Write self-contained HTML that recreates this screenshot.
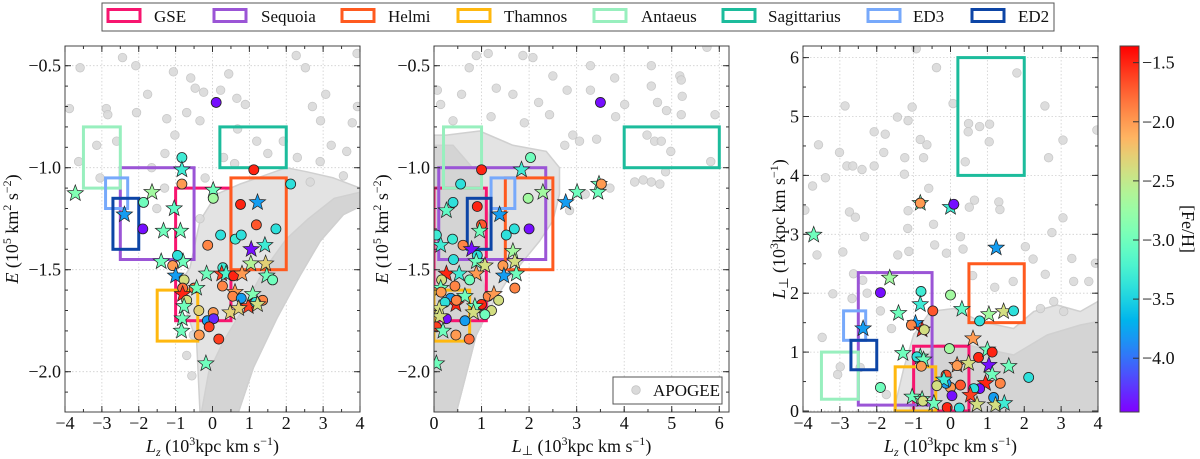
<!DOCTYPE html>
<html><head><meta charset="utf-8">
<style>
html,body{margin:0;padding:0;background:#fff;}
svg{display:block;}
svg text{font-family:"Liberation Serif","Times New Roman",serif;}
</style></head>
<body>
<svg id="fig" width="1200" height="459" viewBox="0 0 1200 459" xmlns="http://www.w3.org/2000/svg" font-family="Liberation Serif, serif">
<defs>
<clipPath id="c1"><rect x="65" y="46" width="295" height="366"/></clipPath>
<clipPath id="c2"><rect x="434" y="46" width="295" height="366"/></clipPath>
<clipPath id="c3"><rect x="803" y="46" width="295" height="366"/></clipPath>
<linearGradient id="cbgrad" x1="0" y1="1" x2="0" y2="0"></linearGradient>
</defs>
<g id="legend">
<rect x="102" y="3" width="952" height="28" fill="#fff" stroke="#555" stroke-width="1"/>
</g>
</svg>
<script>
// ---- data ----
const groupNames = ["GSE","Sequoia","Helmi","Thamnos","Antaeus","Sagittarius","ED3","ED2"];
const groupColors = ["#f7156f","#9b55d6","#ff5a1f","#ffb80f","#98efbe","#1cbc9c","#77a9fb","#0d45a6"];
const boxesLzE = [[-1,0.5,-1.75,-1.1],[-2.5,-0.5,-1.45,-1.0],[0.5,2,-1.5,-1.05],[-1.5,-0.4,-1.85,-1.6],[-3.5,-2.5,-1.1,-0.8],[0.2,2,-1.0,-0.8],[-2.9,-2.3,-1.2,-1.05],[-2.7,-2.0,-1.4,-1.15]];
const boxesLpE = [[0,1.1,-1.75,-1.1],[0.1,2.35,-1.45,-1.0],[1.5,2.5,-1.5,-1.05],[0,0.75,-1.85,-1.6],[0.2,1.0,-1.1,-0.8],[4,6,-1.0,-0.8],[1.2,1.7,-1.2,-1.05],[0.7,1.2,-1.4,-1.15]];
const boxesLzLp = [[-1,0.5,0,1.1],[-2.5,-0.5,0.1,2.35],[0.5,2,1.5,2.5],[-1.5,-0.4,0,0.75],[-3.5,-2.5,0.2,1.0],[0.2,2,4,6],[-2.9,-2.3,1.2,1.7],[-2.7,-2.0,0.7,1.2]];

const denseLzE_outer = [[-0.34,-2.2],[-0.43,-1.85],[-0.7,-1.71],[-0.97,-1.59],[-0.61,-1.49],[-0.34,-1.26],[0.11,-1.13],[0.75,-1.08],[2.0,-1.0],[2.56,-1.02],[3.28,-1.05],[4,-1.1],[4,-1.19],[3.55,-1.23],[2.92,-1.36],[2.37,-1.53],[1.74,-1.74],[1.11,-1.98],[0.7,-2.2]];
const denseLzE_core = [[-0.3,-2.2],[-0.1,-2.0],[0.3,-1.85],[0.8,-1.7],[1.4,-1.5],[2.0,-1.35],[2.6,-1.25],[3.3,-1.15],[4,-1.12],[4,-1.19],[3.55,-1.23],[2.92,-1.36],[2.37,-1.53],[1.74,-1.74],[1.11,-1.98],[0.7,-2.2]];
const denseLpE_outer = [[0,-2.2],[0.47,-2.2],[0.89,-1.82],[1.17,-1.69],[1.52,-1.56],[1.87,-1.46],[2.22,-1.36],[2.5,-1.26],[2.64,-1.13],[2.64,-1.0],[2.36,-0.92],[1.66,-0.89],[0.96,-0.82],[0.26,-0.84],[0,-0.84]];
const denseLpE_core = [[0,-2.2],[0.47,-2.2],[0.89,-1.82],[1.17,-1.69],[0.96,-1.49],[1.17,-1.25],[0.96,-1.04],[0.4,-0.89],[0,-0.89]];
const denseLzLp_outer = [[-1.54,0],[-1.27,0.72],[-1.0,1.29],[-0.55,1.69],[0.09,1.74],[0.81,1.52],[1.71,1.4],[2.26,1.69],[2.89,1.8],[3.52,1.69],[4,1.86],[4,0]];
const denseLzLp_core = [[-1.09,0],[-1.0,0.72],[-0.37,1.12],[0.45,1.12],[1.71,0.95],[2.62,1.29],[3.52,1.46],[4,1.52],[4,0]];

const sparseLzE = [[-3.88,-0.71],[-3.59,-0.51],[-2.44,-0.46],[-2.08,-0.5],[-2.88,-0.71],[-2.84,-0.74],[-2.06,-0.73],[-1.76,-0.64],[-1.06,-0.53],[-0.59,-0.56],[-0.47,-0.61],[-0.24,-0.63],[0.22,-0.62],[0.44,-0.54],[0.66,-0.66],[0.89,-0.69],[2.27,-0.45],[2.52,-0.51],[3.92,-0.44],[2.71,-0.7],[2.93,-0.77],[3.79,-0.78],[3.93,-0.7],[3.07,-0.64],[-3.14,-0.89],[-2.6,-0.87],[-3.63,-0.97],[2.92,-0.97],[3.64,-0.92],[3.22,-0.89],[0.68,-0.81],[1.2,-0.87],[1.92,-0.87],[-1.29,-0.93],[-1.65,-1.0],[-1.02,-0.84],[-0.34,-0.77],[-0.7,-0.73],[-1.24,-0.76],[3.55,-1.04],[2.65,-1.07],[-3.05,-1.05],[-1.51,-1.2],[-0.34,-1.25],[-0.52,-1.82],[-0.56,-2.02],[-0.7,-1.92],[0.3,-0.95],[1.5,-0.93],[-0.2,-1.05],[-1.3,-1.1],[0.6,-0.98],[2.3,-0.95]];
const sparseLpE = [[0.07,-0.62],[0.14,-0.69],[0.89,-0.45],[1.14,-0.44],[1.87,-0.45],[2.08,-0.46],[2.8,-0.62],[3.29,-0.62],[3.29,-0.5],[3.8,-0.56],[4.01,-0.69],[4.57,-0.5],[4.57,-0.6],[4.7,-0.68],[4.89,-0.72],[5.17,-0.55],[5.2,-0.57],[5.22,-0.65],[5.2,-0.74],[5.74,-0.41],[5.91,-0.74],[3.82,-0.75],[4.48,-0.84],[4.64,-0.87],[4.78,-0.87],[4.98,-0.92],[5.82,-0.97],[4.22,-1.07],[4.57,-1.07],[4.75,-1.08],[4.4,-1.06],[4.87,-1.02],[3.7,-1.1],[3.18,-1.13],[2.92,-0.84],[2.75,-0.89],[3.42,-0.86],[3.06,-0.87],[2.85,-1.21],[2.5,-0.55],[0.58,-0.64],[1.66,-0.64],[1.31,-0.61],[2.43,-0.74],[0.74,-0.51],[1.2,-0.75],[1.9,-0.78],[2.2,-0.68],[0.4,-0.77]];
const sparseLzLp = [[-0.93,6.15],[-0.38,5.83],[1.8,5.74],[-2.86,5.18],[-1.04,5.16],[0.07,5.22],[2.56,5.18],[-1.44,4.99],[-1.15,4.93],[0.49,4.88],[0.79,4.83],[1.06,4.87],[0.48,4.74],[1.05,4.57],[3.05,4.6],[3.97,4.77],[-2.07,4.74],[-1.77,4.7],[-0.82,4.61],[-0.64,4.52],[-3.58,4.52],[-3.01,4.39],[-2.81,4.16],[-2.65,4.16],[-2.4,4.1],[-2.07,4.16],[-1.24,4.3],[-0.73,4.3],[-1.81,4.39],[-3.39,3.96],[-3.74,3.82],[-1.25,4.02],[0.4,4.23],[2.66,4.3],[-0.59,3.78],[-3.95,3.41],[-2.74,3.38],[-2.58,3.29],[-1.15,3.4],[-0.46,3.17],[0.51,3.46],[0.65,3.58],[1.31,3.55],[1.34,3.42],[3.05,3.28],[2.75,3.03],[-2.33,2.96],[-2.92,2.7],[-3.62,2.65],[-1.16,3.1],[-0.43,2.82],[0.27,2.96],[-0.11,2.68],[0.34,2.75],[-1.13,2.71],[-1.43,2.65],[2.03,2.79],[3.29,2.59],[2.24,2.58],[2.57,2.32],[3.34,2.2],[3.75,2.2],[3.93,2.51],[-3.19,1.99],[-2.63,2.33],[-2.38,2.22],[-2.67,1.91],[-2.26,2.0],[-3.48,1.25],[-1.74,0.28],[-2.45,0.74],[-3.06,0.62],[-2.99,0.75],[2.8,1.86],[2.44,1.74],[3.07,1.69],[-1.6,1.4],[-1.9,1.7],[1.2,2.1],[0.6,2.3],[1.7,2.2]];

const starsLzE = [[0.10,-0.68,-4.4,0],[-3.72,-1.126,-2.9,1],[-2.39,-1.23,-3.8,1],[-1.89,-1.30,-4.4,0],[-1.87,-1.17,-3.0,0],[-1.64,-1.12,-2.7,1],[-1.33,-1.31,-3.0,1],[-1.39,-1.46,-3.0,1],[-0.83,-0.95,-3.3,0],[-0.83,-1.01,-3.3,1],[-0.83,-1.08,-2.0,0],[-1.04,-1.20,-3.1,1],[-0.87,-1.31,-3.0,1],[-0.80,-1.46,-3.0,1],[-0.95,-1.43,-3.4,0],[-1.08,-1.48,-2.0,0],[-1.0,-1.53,-3.8,1],[-0.77,-1.55,-2.4,0],[-0.81,-1.59,-1.8,0],[-0.81,-1.62,-1.5,1],[-0.5,-1.59,-1.8,0],[-0.43,-1.59,-3.0,1],[-0.70,-1.65,-2.4,0],[-0.77,-1.68,-3.0,1],[-0.37,-1.70,-2.3,0],[-0.82,-1.74,-3.0,1],[-0.84,-1.80,-3.0,1],[-0.36,-1.82,-2.0,0],[0.02,-1.71,-2.0,0],[-0.14,-1.75,-3.8,0],[0.03,-1.74,-4.3,0],[-0.09,-1.78,-1.6,0],[0.17,-1.84,-1.6,0],[-0.18,-1.96,-3.0,1],[-0.13,-1.38,-1.9,0],[0.02,-1.11,-3.0,1],[0.02,-1.15,-2.7,0],[0.22,-1.33,-3.4,0],[0.28,-1.49,-3.3,0],[-0.16,-1.52,-3.0,1],[0.25,-1.52,-1.6,1],[0.37,-1.52,-3.2,1],[0.27,-1.58,-1.9,0],[0.57,-1.53,-1.5,0],[0.80,-1.52,-2.0,1],[0.61,-1.61,-2.0,1],[0.55,-1.63,-1.9,0],[0.78,-1.64,-3.8,0],[1.08,-1.67,-1.5,0],[0.97,-1.68,-1.6,1],[0.48,-1.71,-2.3,1],[0.71,-1.69,-2.3,1],[1.09,-1.62,-2.9,1],[1.36,-1.65,-1.9,0],[1.17,-1.66,-3.4,0],[1.22,-1.67,-2.4,1],[0.62,-1.35,-3.3,0],[0.78,-1.33,-3.4,0],[0.76,-1.18,-1.5,0],[1.12,-1.01,-1.5,0],[1.22,-1.17,-3.8,1],[1.19,-1.28,-1.7,0],[1.72,-1.30,-3.4,0],[1.05,-1.40,-4.4,1],[1.42,-1.38,-3.3,1],[1.04,-1.47,-2.6,1],[1.44,-1.47,-2.3,1],[1.47,-1.53,-3.0,1],[1.63,-1.55,-3.0,0],[2.12,-1.08,-3.4,0]];
const starsLpE = [[3.50,-0.68,-4.4,0],[3.47,-1.08,-3.0,1],[3.45,-1.12,-3.0,1],[3.52,-1.08,-2.0,0],[3.01,-1.12,-3.0,1],[2.77,-1.17,-3.8,1],[2.29,-1.12,-2.7,1],[2.03,-0.95,-3.0,0],[1.84,-1.01,-3.3,1],[1.98,-1.15,-2.7,0],[2.0,-1.30,-4.4,0],[1.69,-1.30,-3.4,0],[1.52,-1.33,-3.4,0],[1.38,-1.23,-3.8,1],[1.66,-1.41,-2.7,1],[1.70,-1.46,-2.4,1],[1.45,-1.48,-2.0,0],[1.47,-1.53,-3.8,1],[1.73,-1.52,-3.0,1],[1.70,-1.59,-1.9,0],[1.0,-1.01,-1.5,0],[0.56,-1.08,-3.4,0],[0.91,-1.19,-1.5,0],[0.26,-1.21,-3.1,1],[0.40,-1.17,-3.4,0],[1.0,-1.28,-1.7,0],[0.96,-1.31,-3.0,1],[0.39,-1.35,-3.3,0],[0.14,-1.38,-3.3,1],[0.05,-1.33,-3.3,0],[0.61,-1.38,-1.9,0],[0.79,-1.40,-4.4,1],[0.91,-1.43,-3.4,0],[0.89,-1.46,-3.0,1],[1.07,-1.48,-2.4,1],[0.89,-1.52,-2.0,1],[0.26,-1.52,-1.5,1],[0.53,-1.52,-3.3,1],[0.41,-1.45,-3.4,0],[0.16,-1.55,-2.4,0],[0.75,-1.55,-3.0,0],[0.14,-1.59,-3.0,1],[0.44,-1.58,-1.9,0],[0.65,-1.63,-3.0,1],[0.35,-1.64,-3.8,0],[0.46,-1.67,-1.5,1],[0.47,-1.65,-1.9,0],[1.0,-1.67,-1.5,0],[0.86,-1.68,-3.0,1],[1.14,-1.63,-1.9,0],[1.26,-1.62,-2.0,1],[1.36,-1.65,-2.4,0],[1.21,-1.70,-2.4,0],[0.83,-1.71,-2.4,1],[0.23,-1.66,-3.4,0],[1.07,-1.72,-3.0,0],[0.26,-1.74,-4.4,0],[0.65,-1.75,-3.8,0],[0.11,-1.69,-2.4,1],[0.12,-1.73,-2.4,1],[0.05,-1.78,-1.6,0],[0.19,-1.80,-3.0,1],[0.46,-1.82,-2.0,0],[0.74,-1.84,-1.8,0],[0.05,-1.96,-3.0,1],[0.15,-1.61,-2.0,0]];
const starsLzLp = [[-3.71,2.99,-3.0,1],[-2.37,1.40,-3.8,1],[-1.65,2.26,-2.7,1],[-1.90,2.01,-4.4,0],[-1.90,0.40,-3.0,0],[-1.41,1.66,-3.0,1],[-1.29,0.98,-3.0,1],[-0.80,2.03,-3.3,0],[-0.82,1.81,-3.3,1],[-0.82,3.53,-3.0,1],[-0.82,3.53,-2.0,0],[0.0,3.46,-3.3,1],[0.09,3.51,-4.4,0],[-0.48,1.70,-1.7,0],[-0.95,1.49,-3.8,1],[-1.06,1.46,-1.9,0],[-0.77,1.38,-1.5,1],[-0.71,1.38,-2.4,0],[0.0,1.97,-2.7,0],[0.31,1.73,-3.1,1],[1.24,2.77,-3.8,1],[1.04,1.64,-2.7,1],[1.44,1.69,-2.4,1],[1.71,1.70,-3.4,0],[0.79,1.53,-3.4,0],[0.61,1.23,-2.0,1],[-0.03,1.06,-2.7,0],[-0.82,0.92,-3.0,1],[-0.91,0.92,-3.4,0],[-0.73,0.87,-3.0,1],[-0.79,0.76,-2.0,0],[0.18,0.78,-1.9,1],[0.18,0.77,-2.0,0],[0.49,0.81,-2.4,1],[0.76,0.91,-1.5,0],[1.0,1.04,-3.0,1],[1.13,1.0,-1.5,0],[1.04,0.78,-4.4,1],[1.13,0.62,-3.0,1],[1.35,0.47,-1.9,0],[1.58,0.76,-3.0,1],[2.12,0.57,-3.4,0],[0.95,0.47,-1.5,1],[0.79,0.38,-4.4,0],[0.63,0.38,-3.4,0],[1.17,0.23,-3.8,0],[0.54,0.27,-1.6,1],[0.72,0.11,-2.4,1],[1.22,0.10,-2.4,1],[1.46,0.13,-3.3,1],[0.27,0.44,-1.7,0],[0.0,0.40,-2.0,0],[0.04,0.26,-4.4,0],[-0.12,0.61,-1.7,0],[-0.12,0.47,-3.8,0],[-0.18,0.53,-3.3,1],[-0.09,0.06,-1.5,0],[0.24,0.05,-3.4,0],[-0.37,0.43,-2.4,0],[-1.04,0.24,-3.0,1],[-0.77,0.20,-3.0,1],[-0.75,0.17,-2.4,0],[-0.45,0.13,-3.0,1]];

const cbTicks = [-1.5,-2.0,-2.5,-3.0,-3.5,-4.0];
const FEH_MIN = -4.455, FEH_MAX = -1.359;

// ---- helpers ----
const NS = "http://www.w3.org/2000/svg";
const FONT = "Liberation Serif, Times New Roman, serif";
const svg = document.getElementById("fig");
function mk(tag, attrs, parent){
  const e = document.createElementNS(NS, tag);
  for (const k in attrs) e.setAttribute(k, attrs[k]);
  if (tag === "text") e.setAttribute("font-family", FONT);
  (parent||svg).appendChild(e);
  return e;
}
function rainbow(v){
  let t = (v-FEH_MIN)/(FEH_MAX-FEH_MIN); t=Math.max(0,Math.min(1,t));
  const c = x => Math.round(255*Math.max(0,Math.min(1,x)));
  return `rgb(${c(Math.abs(2*t-0.5))},${c(Math.sin(Math.PI*t))},${c(Math.cos(Math.PI*t/2))})`;
}
function starPath(cx, cy, R){
  const r = R*0.42; let d="";
  for (let i=0;i<10;i++){
    const a = -Math.PI/2 + i*Math.PI/5;
    const rr = i%2===0 ? R : r;
    d += (i===0?"M":"L") + (cx+rr*Math.cos(a)).toFixed(1)+","+(cy+rr*Math.sin(a)).toFixed(1);
  }
  return d+"Z";
}

function panel(cfg){
  const {id,x0,x1,y0,y1,xmin,xmax,ymin,ymax} = cfg;
  const sx = v => x0 + (v-xmin)/(xmax-xmin)*(x1-x0);
  const sy = v => y1 - (v-ymin)/(ymax-ymin)*(y1-y0);
  const g = mk("g",{});
  
  
  const clip = mk("g",{"clip-path":`url(#${cfg.clip})`}, g);
  cfg.xticks.forEach(t=>{ const l=mk("line",{x1:sx(t),x2:sx(t),y1:y0,y2:y1,stroke:"#cfcfcf","stroke-width":0.8,"stroke-dasharray":"1.5,2"},clip);
      });
  cfg.yticks.forEach(t=>{ const l=mk("line",{x1:x0,x2:x1,y1:sy(t),y2:sy(t),stroke:"#cfcfcf","stroke-width":0.8,"stroke-dasharray":"1.5,2"},clip);
      });
  const poly = (pts, fill, nm) => { const p = mk("polygon",{points:pts.map(q=>sx(q[0]).toFixed(1)+","+sy(q[1]).toFixed(1)).join(" "),fill:fill,stroke:"#d0d0d0","stroke-width":1.5,"stroke-linejoin":"round"},clip);
      };
  poly(cfg.outer, "#e3e3e3", "apogee-density-outer");
  poly(cfg.core, "#d4d4d4", "apogee-density-core");
  cfg.sparse.forEach(q=>{ const c=mk("circle",{cx:sx(q[0]),cy:sy(q[1]),r:4.3,fill:"#dadada",stroke:"#c4c4c4","stroke-width":0.8,opacity:0.9},clip);
      });
  cfg.boxes.forEach((b,i)=>{ const r=mk("rect",{x:sx(b[0]),y:sy(b[3]),width:sx(b[1])-sx(b[0]),height:sy(b[2])-sy(b[3]),fill:"none",stroke:groupColors[i],"stroke-width":3},clip);
      });
  cfg.pts.forEach(q=>{
    let e;
    if (q[3]===1) e = mk("path",{d:starPath(sx(q[0]),sy(q[1]),8.5),fill:rainbow(q[2]),stroke:"#222","stroke-width":0.7},clip);
    else e = mk("circle",{cx:sx(q[0]),cy:sy(q[1]),r:5,fill:rainbow(q[2]),stroke:"#222","stroke-width":0.8},clip);
    
    
  });
  const fr = mk("rect",{x:x0,y:y0,width:x1-x0,height:y1-y0,fill:"none",stroke:"#444","stroke-width":1},g);
   
  const tk = (xa,ya,xb,yb)=>mk("line",{x1:xa,y1:ya,x2:xb,y2:yb,stroke:"#333","stroke-width":1},g);
  cfg.xminor.forEach(t=>{ tk(sx(t),y1,sx(t),y1-3); tk(sx(t),y0,sx(t),y0+3); });
  cfg.yminor.forEach(t=>{ tk(x0,sy(t),x0+3,sy(t)); tk(x1,sy(t),x1-3,sy(t)); });
  cfg.xticks.forEach(t=>{ tk(sx(t),y1,sx(t),y1-6); tk(sx(t),y0,sx(t),y0+6);
    const tx=mk("text",{x:sx(t),y:429,"text-anchor":"middle","font-size":18,fill:"#111"},g);
    tx.textContent = (t<0?"\u2212":"")+Math.abs(t);
      });
  cfg.yticks.forEach(t=>{ tk(x0,sy(t),x0+6,sy(t)); tk(x1,sy(t),x1-6,sy(t));
    const tx=mk("text",{x:x0-4,y:sy(t)+6,"text-anchor":"end","font-size":18,fill:"#111"},g);
    tx.textContent = (t<0?"\u2212":"")+Math.abs(t).toFixed(cfg.ydec);
      });
  const xl = mk("text",{x:(x0+x1)/2,y:452,"text-anchor":"middle","font-size":18,fill:"#111"},g);
  xl.innerHTML = cfg.xlabel;
   
  const yl = mk("text",{x:0,y:0,"text-anchor":"middle","font-size":18,fill:"#111",transform:`translate(${cfg.ylx},${(y0+y1)/2}) rotate(-90)`},g);
  yl.innerHTML = cfg.ylabel;
   
  return {sx,sy,g};
}
function rng(a,b,s){const r=[];for(let v=a;v<=b+1e-9;v+=s)r.push(+v.toFixed(3));return r;}
const LZ = '<tspan font-style="italic">L</tspan><tspan font-style="italic" font-size="12" dy="4">z</tspan><tspan dy="-4"> (10</tspan><tspan font-size="12" dy="-7">3</tspan><tspan dy="7">kpc km s</tspan><tspan font-size="12" dy="-7">\u22121</tspan><tspan dy="7">)</tspan>';
const LP = '<tspan font-style="italic">L</tspan><tspan font-size="13" dy="3">\u22a5</tspan><tspan dy="-3"> (10</tspan><tspan font-size="12" dy="-7">3</tspan><tspan dy="7">kpc km s</tspan><tspan font-size="12" dy="-7">\u22121</tspan><tspan dy="7">)</tspan>';
const EL = '<tspan font-style="italic">E</tspan><tspan> (10</tspan><tspan font-size="12" dy="-7">5</tspan><tspan dy="7"> km</tspan><tspan font-size="12" dy="-7">2</tspan><tspan dy="7"> s</tspan><tspan font-size="12" dy="-7">\u22122</tspan><tspan dy="7">)</tspan>';

panel({id:"lz-e",clip:"c1",x0:65,x1:360,y0:46,y1:412,xmin:-4,xmax:4,ymin:-2.1975,ymax:-0.4034,
  xticks:rng(-4,4,1),yticks:[-2.0,-1.5,-1.0,-0.5],xminor:rng(-4,4,0.5),yminor:rng(-2.1,-0.5,0.1),ydec:1,
  outer:denseLzE_outer,core:denseLzE_core,sparse:sparseLzE,boxes:boxesLzE,pts:starsLzE,xlabel:LZ,ylabel:EL,ylx:18});
panel({id:"lperp-e",clip:"c2",x0:434,x1:729,y0:46,y1:412,xmin:0,xmax:6.204,ymin:-2.1975,ymax:-0.4034,
  xticks:rng(0,6,1),yticks:[-2.0,-1.5,-1.0,-0.5],xminor:rng(0,6,0.5),yminor:rng(-2.1,-0.5,0.1),ydec:1,
  outer:denseLpE_outer,core:denseLpE_core,sparse:sparseLpE,boxes:boxesLpE,pts:starsLpE,xlabel:LP,ylabel:EL,ylx:388});
panel({id:"lz-lperp",clip:"c3",x0:803,x1:1098,y0:46,y1:412,xmin:-4,xmax:4,ymin:-0.017,ymax:6.197,
  xticks:rng(-4,4,1),yticks:rng(0,6,1),xminor:rng(-4,4,0.5),yminor:rng(0,6,0.5),ydec:0,
  outer:denseLzLp_outer,core:denseLzLp_core,sparse:sparseLzLp,boxes:boxesLzLp,pts:starsLzLp,xlabel:LZ,ylabel:LP,ylx:785});

const al = mk("g",{});
 
mk("rect",{x:613,y:377,width:109,height:27,fill:"#fff",stroke:"#555","stroke-width":1},al);
mk("circle",{cx:636,cy:390,r:4.3,fill:"#dadada",stroke:"#c4c4c4","stroke-width":0.8},al);
const at = mk("text",{x:653,y:396,"font-size":17,fill:"#111"},al); at.textContent="APOGEE";
 

const grad = document.getElementById("cbgrad");
for (let i=0;i<=20;i++){ const t=i/20; mk("stop",{offset:t,"stop-color":rainbow(FEH_MIN+t*(FEH_MAX-FEH_MIN))},grad); }
const cb = mk("g",{});
 
mk("rect",{x:1120,y:46,width:19,height:366,fill:"url(#cbgrad)",stroke:"#444","stroke-width":1},cb);
const cy = v => 412 - (v-FEH_MIN)/(FEH_MAX-FEH_MIN)*366;
cbTicks.forEach(t=>{
  mk("line",{x1:1139,x2:1133,y1:cy(t),y2:cy(t),stroke:"#333","stroke-width":1},cb);
  const tx = mk("text",{x:1142,y:cy(t)+6,"font-size":18,fill:"#111"},cb);
  tx.textContent = "\u2212"+Math.abs(t).toFixed(1);
   
});
const cbl = mk("text",{x:0,y:0,"text-anchor":"middle","font-size":18,fill:"#111",transform:"translate(1182,229) rotate(90)"},cb);
cbl.textContent = "[Fe/H]";
 

const legX = [108,214,342,458,594,723,868,972];
const legT = [154,261,388,504,641,768,913,1018];
const lg = document.getElementById("legend");
groupNames.forEach((n,i)=>{
  const r = mk("rect",{x:legX[i],y:9.5,width:32,height:12,fill:"#fff",stroke:groupColors[i],"stroke-width":3},lg);
   
  const t = mk("text",{x:legT[i],y:22,"font-size":17,fill:"#111"},lg);
  t.textContent = n;
   
});
</script>
</body></html>
